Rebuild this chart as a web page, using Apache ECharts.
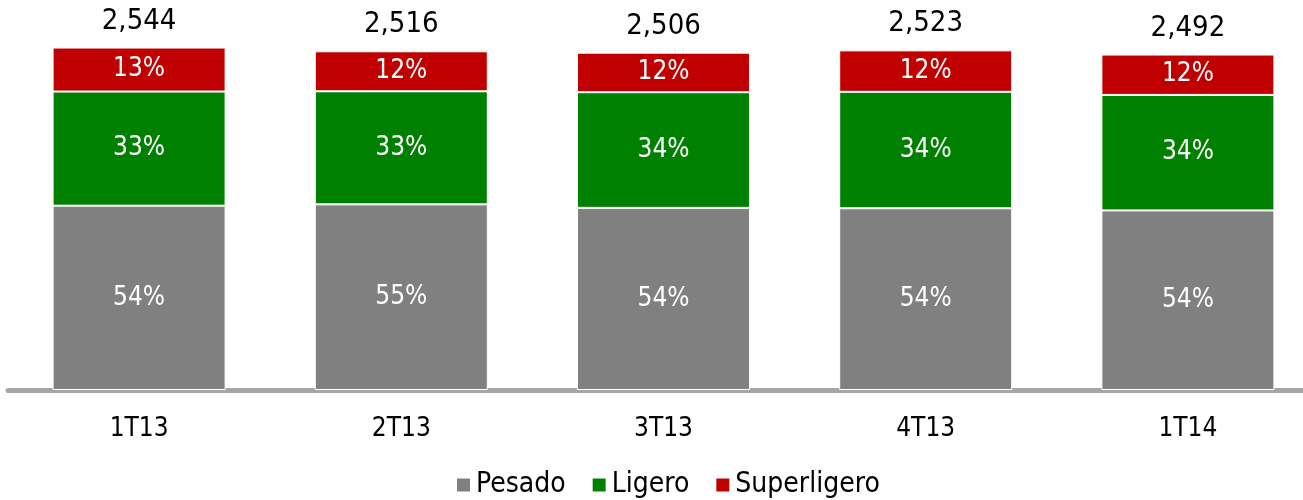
<!DOCTYPE html>
<html>
<head>
<meta charset="utf-8">
<script src="https://cdn.jsdelivr.net/npm/echarts@6/dist/echarts.min.js"></script>
<style>
html,body{margin:0;padding:0;background:#fff;}
#c{width:1303px;height:500px;}
</style>
</head>
<body>
<div id="c"></div>
<script>
const categories = ['1T13', '2T13', '3T13', '4T13', '1T14'];
const pesado = [1369, 1379, 1353, 1350, 1334];
const ligero = [848, 840, 859, 865, 858];
const superligero = [327, 297, 294, 308, 300];
const totals = [2544, 2516, 2506, 2523, 2492];
const pctPesado = [54, 55, 54, 54, 54];
const pctLigero = [33, 33, 34, 34, 34];
const pctSuper = [13, 12, 12, 12, 12];

const FONT = '"DejaVu Sans Condensed", "DejaVu Sans", sans-serif';
const chart = echarts.init(document.getElementById('c'));

function seg(name, data, pct, color) {
  return {
    name: name,
    type: 'bar',
    stack: 'total',
    barWidth: 173,
    data: data,
    itemStyle: { color: color, borderColor: '#ffffff', borderWidth: 1 },
    label: {
      show: true,
      position: 'inside',
      color: '#ffffff',
      fontFamily: FONT,
      fontSize: 26,
      formatter: p => pct[p.dataIndex] + '%'
    },
    emphasis: { disabled: true },
    animation: false
  };
}

chart.setOption({
  animation: false,
  textStyle: { fontFamily: FONT },
  grid: { left: 8, top: 40, width: 1311, height: 350, outerBoundsMode: 'none', containLabel: false },
  legend: {
    left: 450,
    top: 466,
    itemWidth: 15,
    itemHeight: 15,
    itemGap: 25,
    icon: 'rect',
    textStyle: { fontFamily: FONT, fontSize: 28, color: '#000000' },
    data: ['Pesado', 'Ligero', 'Superligero']
  },
  xAxis: {
    type: 'category',
    data: categories,
    offset: 2,
    axisLine: { lineStyle: { color: '#a6a6a6', width: 5 } },
    axisTick: { show: false },
    axisLabel: { color: '#000000', fontFamily: FONT, fontSize: 26, margin: 24 }
  },
  yAxis: {
    type: 'value',
    min: 0,
    max: 2600,
    show: false,
    splitLine: { show: false }
  },
  series: [
    seg('Pesado', pesado, pctPesado, '#808080'),
    seg('Ligero', ligero, pctLigero, '#008000'),
    seg('Superligero', superligero, pctSuper, '#C00000'),
    {
      name: 'Total',
      type: 'bar',
      stack: 'total',
      barWidth: 173,
      data: totals.map(() => 0),
      itemStyle: { color: 'transparent' },
      label: {
        show: true,
        position: 'top',
        distance: 12,
        color: '#000000',
        fontFamily: FONT,
        fontSize: 29,
        formatter: p => totals[p.dataIndex].toLocaleString('en-US')
      },
      emphasis: { disabled: true },
      animation: false
    }
  ]
});
</script>
</body>
</html>
